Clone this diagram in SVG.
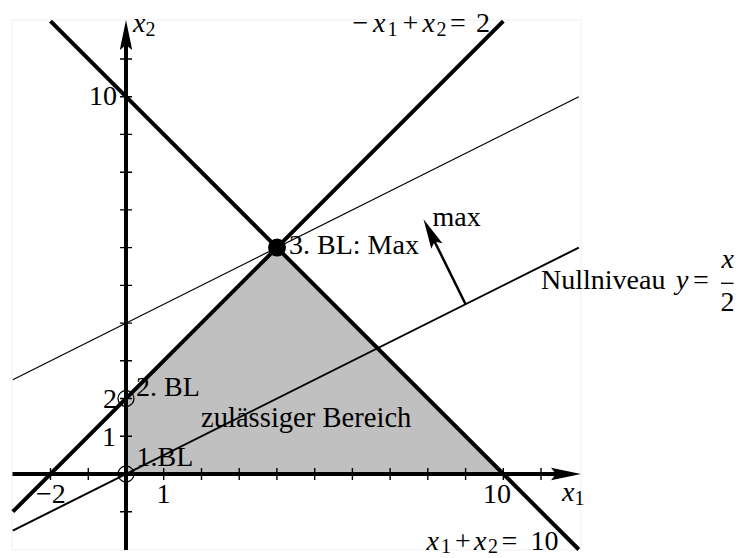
<svg xmlns="http://www.w3.org/2000/svg" width="738" height="558" viewBox="0 0 738 558">
<style>
text{font-family:"Liberation Serif","Times New Roman",serif;font-size:28px;fill:#000}
.i{font-style:italic}
.s{font-size:20px}
.thick{stroke:#000;stroke-width:4;fill:none}
.tick{stroke:#000;stroke-width:1.4;fill:none}
</style>
<defs>
<marker id="ah" viewBox="-31 -8 33 16" markerWidth="33" markerHeight="16" refX="-20" refY="0" orient="auto" markerUnits="userSpaceOnUse">
<path d="M0,0 L-30,-6.2 L-25,0 L-30,6.2 Z" fill="#000"/>
</marker>
</defs>
<rect width="738" height="558" fill="#fff"/>
<rect x="12" y="20" width="569" height="530" fill="none" stroke="#f0f0f0" stroke-width="1"/>
<g id="region">
<polygon points="126,474 503.3,474 276.9,247.6 126,398.5" fill="#c0c0c0"/>
<text x="201" y="427" style="font-size:28.6px">zulässiger Bereich</text>
</g>
<g id="connectors">
<line id="c1" x1="50.5" y1="21.2" x2="578.8" y2="549.5" class="thick"/>
<line id="c2" x1="12.8" y1="511.7" x2="503.3" y2="21.2" class="thick"/>
<line id="level" x1="12.8" y1="379.7" x2="578.8" y2="96.7" stroke="#000" stroke-width="1.2"/>
<line id="null" x1="12.8" y1="530.6" x2="578.8" y2="247.6" stroke="#000" stroke-width="2"/>
<line id="maxarrow" x1="465.6" y1="304.2" x2="432.4" y2="237.1" stroke="#000" stroke-width="2.5" marker-end="url(#ah)"/>
</g>
<g id="axes">
<line x1="12.5" y1="474" x2="561" y2="474" class="thick" marker-end="url(#ah)"/>
<line x1="126" y1="550" x2="126" y2="40" class="thick" marker-end="url(#ah)"/>
<path class="tick" d="M50.5,468v12M88.3,468v12M163.7,468v12M201.5,468v12M239.2,468v12M276.9,468v12M314.7,468v12M352.4,468v12M390.1,468v12M427.8,468v12M465.6,468v12M503.3,468v12M541,468v12"/>
<path class="tick" d="M120,511.7h12M120,436.3h12M120,398.5h12M120,360.8h12M120,323.1h12M120,285.4h12M120,247.6h12M120,209.9h12M120,172.2h12M120,134.4h12M120,96.7h12M120,59h12"/>
<text x="133" y="32"><tspan class="i">x</tspan><tspan class="s" dy="4">2</tspan></text>
<text x="562" y="501"><tspan class="i">x</tspan><tspan class="s" dy="4">1</tspan></text>
<text x="117" y="105" text-anchor="end">10</text>
<text x="117" y="407.5" text-anchor="end">2</text>
<text x="116" y="446" text-anchor="end">1</text>
<text x="36" y="503">−2</text>
<text x="163.5" y="503" text-anchor="middle">1</text>
<text x="497" y="503" text-anchor="middle">10</text>
</g>
<g id="labels">
<text y="32"><tspan x="352.5">−</tspan><tspan x="373" class="i">x</tspan><tspan x="387.5" class="s" dy="4">1</tspan><tspan x="402.5" dy="-4">+</tspan><tspan x="422.5" class="i">x</tspan><tspan x="436.5" class="s" dy="4">2</tspan><tspan x="450" dy="-4">=</tspan><tspan x="476">2</tspan></text>
<text y="550"><tspan x="426.5" class="i">x</tspan><tspan x="441" class="s" dy="3">1</tspan><tspan x="455" dy="-3">+</tspan><tspan x="474" class="i">x</tspan><tspan x="488" class="s" dy="3">2</tspan><tspan x="501.5" dy="-3">=</tspan><tspan x="530.5">10</tspan></text>
<text x="541" y="289">Nullniveau <tspan class="i" x="676">y</tspan><tspan x="693">=</tspan></text>
<text x="721.5" y="268" class="i">x</text>
<line x1="721" y1="283.3" x2="733.5" y2="283.3" stroke="#000" stroke-width="1.3"/>
<text x="720.5" y="311">2</text>
<text x="432.5" y="225.5">max</text>
</g>
<g id="p1">
<circle cx="126" cy="474" r="8" fill="none" stroke="#000" stroke-width="1.3"/>
<text x="136.5" y="466">1.BL</text>
</g>
<g id="p2">
<circle cx="126" cy="398.5" r="8" fill="none" stroke="#000" stroke-width="1.3"/>
<text x="136" y="396">2. BL</text>
</g>
<g id="p3">
<circle cx="277" cy="247.6" r="9" fill="#000"/>
<text x="289" y="254">3. BL: Max</text>
</g>
</svg>
